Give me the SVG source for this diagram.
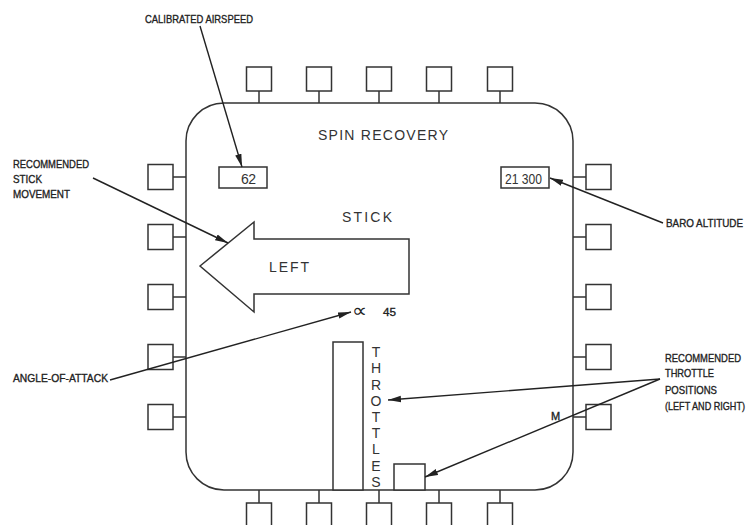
<svg xmlns="http://www.w3.org/2000/svg" width="753" height="525" viewBox="0 0 753 525">
<style>
.ln{fill:none;stroke:#333;stroke-width:1.5}
.sq{fill:#fff;stroke:#333;stroke-width:1.5}
.ld{fill:none;stroke:#222;stroke-width:1.4}
.lbl{font-family:"Liberation Sans",Arial,sans-serif;font-size:11px;fill:#222;stroke:#222;stroke-width:0.35}
.dsp{font-family:"Liberation Sans",Arial,sans-serif;font-size:14px;fill:#333}
</style>
<defs>
<marker id="ah" markerWidth="14" markerHeight="8" refX="13" refY="4" orient="auto" markerUnits="userSpaceOnUse">
<path d="M0,0.8 L13,4 L0,7.2 Z" fill="#222"/>
</marker>
</defs>
<rect width="753" height="525" fill="#fff"/>
<g id="display">
<rect x="186" y="103" width="387" height="387" rx="38" ry="38" class="ln"/>
<text x="318" y="140" class="dsp" textLength="130" lengthAdjust="spacing">SPIN RECOVERY</text>
</g>
<g id="buttons-top">
<path class="ln" d="M259,91V103M319,91V103M379,91V103M439,91V103M500,91V103"/>
<rect class="sq" x="246.5" y="67" width="25" height="24"/>
<rect class="sq" x="306.5" y="67" width="25" height="24"/>
<rect class="sq" x="366.5" y="67" width="25" height="24"/>
<rect class="sq" x="426.5" y="67" width="25" height="24"/>
<rect class="sq" x="487.5" y="67" width="25" height="24"/>
</g>
<g id="buttons-bottom">
<path class="ln" d="M259,490V503M319,490V503M379,490V503M439,490V503M500,490V503"/>
<rect class="sq" x="246.5" y="503" width="25" height="25"/>
<rect class="sq" x="306.5" y="503" width="25" height="25"/>
<rect class="sq" x="366.5" y="503" width="25" height="25"/>
<rect class="sq" x="426.5" y="503" width="25" height="25"/>
<rect class="sq" x="487.5" y="503" width="25" height="25"/>
</g>
<g id="buttons-left">
<path class="ln" d="M173,177H186M173,237H186M173,297H186M173,357H186M173,417H186"/>
<rect class="sq" x="148" y="164.5" width="25" height="25"/>
<rect class="sq" x="148" y="224.5" width="25" height="25"/>
<rect class="sq" x="148" y="284.5" width="25" height="25"/>
<rect class="sq" x="148" y="344.5" width="25" height="25"/>
<rect class="sq" x="148" y="404.5" width="25" height="25"/>
</g>
<g id="buttons-right">
<path class="ln" d="M573,177H586M573,237H586M573,297H586M573,357H586M573,417H586"/>
<rect class="sq" x="586" y="164.5" width="25" height="25"/>
<rect class="sq" x="586" y="224.5" width="25" height="25"/>
<rect class="sq" x="586" y="284.5" width="25" height="25"/>
<rect class="sq" x="586" y="344.5" width="25" height="25"/>
<rect class="sq" x="586" y="404.5" width="25" height="25"/>
</g>
<g id="airspeed">
<rect class="sq" x="219" y="167" width="48" height="21"/>
<text x="241" y="184" class="dsp" textLength="15">62</text>
</g>
<g id="altitude">
<rect class="sq" x="501" y="167" width="48" height="21"/>
<text x="505" y="184" class="dsp" textLength="37" lengthAdjust="spacingAndGlyphs">21 300</text>
</g>
<g id="stick">
<text x="342" y="222" class="dsp" textLength="50" lengthAdjust="spacing">STICK</text>
<polygon class="sq" points="200,266 254,222 254,239 409,239 409,294 254,294 254,312"/>
<text x="269" y="272" class="dsp" textLength="40" lengthAdjust="spacing">LEFT</text>
</g>
<g id="aoa">
<text x="352" y="317" font-family="'DejaVu Sans',sans-serif" font-size="19" fill="#222" textLength="15" lengthAdjust="spacingAndGlyphs">∝</text>
<text x="383" y="316" class="lbl" font-size="10" textLength="13" lengthAdjust="spacingAndGlyphs">45</text>
</g>
<g id="throttles">
<rect class="sq" x="333" y="342" width="30" height="148"/>
<rect class="sq" x="394" y="464" width="31" height="26"/>
<g class="dsp" text-anchor="middle">
<text x="376" y="357">T</text>
<text x="376" y="373">H</text>
<text x="376" y="390">R</text>
<text x="376" y="406">O</text>
<text x="376" y="422">T</text>
<text x="376" y="438">T</text>
<text x="376" y="454">L</text>
<text x="376" y="471">E</text>
<text x="376" y="487">S</text>
</g>
<text x="551" y="420" class="lbl" font-size="10">M</text>
</g>
<g id="labels">
<text x="145" y="23" class="lbl" textLength="108" lengthAdjust="spacingAndGlyphs">CALIBRATED AIRSPEED</text>
<text x="13" y="168" class="lbl" textLength="76" lengthAdjust="spacingAndGlyphs">RECOMMENDED</text>
<text x="13" y="183" class="lbl" textLength="29" lengthAdjust="spacingAndGlyphs">STICK</text>
<text x="13" y="198" class="lbl" textLength="57" lengthAdjust="spacingAndGlyphs">MOVEMENT</text>
<text x="666" y="227" class="lbl" font-size="10" textLength="77" lengthAdjust="spacingAndGlyphs">BARO ALTITUDE</text>
<text x="13" y="382" class="lbl" textLength="95" lengthAdjust="spacingAndGlyphs">ANGLE-OF-ATTACK</text>
<text x="665" y="362" class="lbl" font-size="10" textLength="76" lengthAdjust="spacingAndGlyphs">RECOMMENDED</text>
<text x="665" y="377" class="lbl" font-size="10" textLength="49" lengthAdjust="spacingAndGlyphs">THROTTLE</text>
<text x="665" y="394" class="lbl" font-size="10" textLength="52" lengthAdjust="spacingAndGlyphs">POSITIONS</text>
<text x="665" y="410" class="lbl" font-size="9.5" textLength="80" lengthAdjust="spacingAndGlyphs">(LEFT AND RIGHT)</text>
</g>
<g id="connectors">
<line class="ld" x1="200" y1="26" x2="242" y2="167" marker-end="url(#ah)"/>
<line class="ld" x1="93" y1="178" x2="228" y2="243" marker-end="url(#ah)"/>
<line class="ld" x1="663" y1="223" x2="550" y2="178" marker-end="url(#ah)"/>
<line class="ld" x1="110" y1="380" x2="351" y2="312" marker-end="url(#ah)"/>
<line class="ld" x1="660" y1="379" x2="388" y2="400" marker-end="url(#ah)"/>
<line class="ld" x1="660" y1="379" x2="425" y2="477" marker-end="url(#ah)"/>
</g>
</svg>
